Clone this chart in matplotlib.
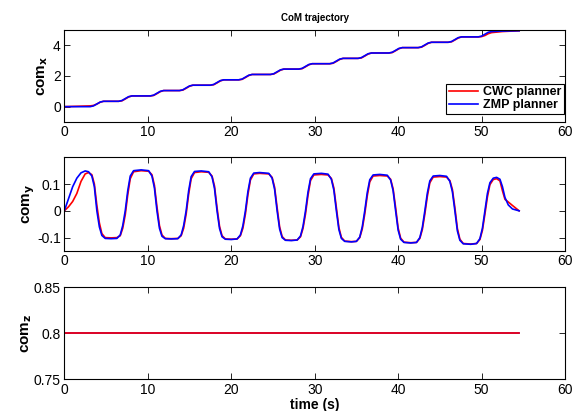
import matplotlib
matplotlib.use("Agg")
import matplotlib.pyplot as plt

plt.rcParams['font.family'] = ['Liberation Sans', 'DejaVu Sans']

# ---------------- data ----------------
series_names = ["CWC planner", "ZMP planner"]
x_ticks = [0, 10, 20, 30, 40, 50, 60]

# com_x (shared time samples)
t_x = [0, 3.1, 3.5, 3.9, 4.3, 4.7, 6.5, 6.9, 7.3, 7.7, 8.1,
       10.3, 10.7, 11.1, 11.5, 11.9, 13.8, 14.2, 14.6, 15.0, 15.4,
       17.5, 17.9, 18.3, 18.7, 19.1, 20.9, 21.3, 21.7, 22.1, 22.5,
       24.7, 25.1, 25.5, 25.9, 26.3, 28.1, 28.5, 28.9, 29.3, 29.7,
       31.8, 32.2, 32.6, 33.0, 33.4, 35.2, 35.6, 36.0, 36.4, 36.8,
       38.9, 39.3, 39.7, 40.1, 40.5, 42.4, 42.8, 43.2, 43.6, 44.0,
       46.0, 46.4, 46.8, 47.2, 47.6, 49.6, 50.0, 50.4, 50.8, 51.2,
       52.5, 54.5]
comx_zmp = [0.0, 0.0, 0.05, 0.175, 0.30, 0.35, 0.35, 0.40, 0.525, 0.65, 0.70,
            0.70, 0.75, 0.875, 1.00, 1.05, 1.05, 1.10, 1.225, 1.35, 1.40,
            1.40, 1.45, 1.575, 1.70, 1.75, 1.75, 1.80, 1.925, 2.05, 2.10,
            2.10, 2.15, 2.275, 2.40, 2.45, 2.45, 2.50, 2.625, 2.75, 2.80,
            2.80, 2.85, 2.975, 3.10, 3.15, 3.15, 3.20, 3.325, 3.45, 3.50,
            3.50, 3.55, 3.675, 3.80, 3.85, 3.85, 3.90, 4.025, 4.15, 4.20,
            4.20, 4.25, 4.375, 4.50, 4.55, 4.55, 4.60, 4.725, 4.85, 4.90,
            4.93, 4.95]
comx_cwc = [0.0, 0.05, 0.08, 0.17, 0.29, 0.35, 0.35, 0.38, 0.50, 0.63, 0.70,
            0.70, 0.73, 0.85, 0.98, 1.05, 1.05, 1.08, 1.20, 1.33, 1.40,
            1.40, 1.43, 1.55, 1.68, 1.75, 1.75, 1.78, 1.90, 2.03, 2.10,
            2.10, 2.13, 2.25, 2.38, 2.45, 2.45, 2.48, 2.60, 2.73, 2.80,
            2.80, 2.83, 2.95, 3.08, 3.15, 3.15, 3.18, 3.30, 3.43, 3.50,
            3.50, 3.53, 3.65, 3.78, 3.85, 3.85, 3.88, 4.00, 4.13, 4.20,
            4.20, 4.23, 4.35, 4.48, 4.55, 4.55, 4.57, 4.64, 4.76, 4.83,
            4.90, 4.95]

# com_y (shared time samples)
t_y = [0, 0.5, 1.0, 1.5, 2.0, 2.5, 2.9,
       3.3, 3.6, 3.9, 4.2, 4.5, 4.9, 5.6, 6.3,
       6.7, 7.0, 7.3, 7.6, 7.9, 8.3, 9.2, 10.1,
       10.5, 10.8, 11.1, 11.4, 11.7, 12.1, 12.8, 13.6,
       14.0, 14.3, 14.6, 14.9, 15.2, 15.6, 16.4, 17.3,
       17.7, 18.0, 18.3, 18.6, 18.9, 19.3, 20.0, 20.7,
       21.1, 21.4, 21.7, 22.0, 22.3, 22.7, 23.4, 24.5,
       24.9, 25.2, 25.5, 25.8, 26.1, 26.5, 27.2, 27.9,
       28.3, 28.6, 28.9, 29.2, 29.5, 29.9, 30.8, 31.6,
       32.0, 32.3, 32.6, 32.9, 33.2, 33.6, 34.4, 35.0,
       35.4, 35.7, 36.0, 36.3, 36.6, 37.0, 37.8, 38.7,
       39.1, 39.4, 39.7, 40.0, 40.3, 40.7, 41.5, 42.2,
       42.6, 42.9, 43.2, 43.5, 43.8, 44.2, 45.0, 45.8,
       46.2, 46.5, 46.8, 47.1, 47.4, 47.8, 48.7, 49.4,
       49.8, 50.1, 50.4, 50.7, 51.0, 51.4, 51.8, 52.2, 52.5, 52.8, 53.2, 53.7, 54.5]
comy_zmp = [0.0, 0.045, 0.09, 0.122, 0.142, 0.149, 0.146,
            0.13, 0.09, 0.0, -0.06, -0.092, -0.103, -0.104, -0.103,
            -0.09, -0.055, 0.0, 0.075, 0.13, 0.15, 0.153, 0.15,
            0.13, 0.085, 0.0, -0.065, -0.095, -0.104, -0.105, -0.104,
            -0.09, -0.055, 0.0, 0.075, 0.128, 0.147, 0.149, 0.146,
            0.127, 0.083, 0.0, -0.066, -0.097, -0.106, -0.107, -0.105,
            -0.09, -0.056, 0.0, 0.072, 0.122, 0.141, 0.143, 0.14,
            0.122, 0.08, 0.0, -0.068, -0.1, -0.11, -0.111, -0.109,
            -0.094, -0.058, 0.0, 0.07, 0.12, 0.138, 0.14, 0.137,
            0.118, 0.077, 0.0, -0.07, -0.103, -0.114, -0.116, -0.114,
            -0.098, -0.06, 0.0, 0.068, 0.116, 0.134, 0.136, 0.133,
            0.115, 0.075, 0.0, -0.072, -0.106, -0.118, -0.12, -0.118,
            -0.1, -0.062, 0.0, 0.066, 0.112, 0.13, 0.132, 0.129,
            0.11, 0.072, 0.0, -0.075, -0.11, -0.123, -0.125, -0.122,
            -0.104, -0.065, 0.0, 0.065, 0.105, 0.122, 0.125, 0.118, 0.09, 0.05, 0.022, 0.007, 0.0]
comy_cwc = [0.0, 0.015, 0.035, 0.065, 0.11, 0.138, 0.143,
            0.135, 0.1, 0.02, -0.045, -0.085, -0.1, -0.101, -0.1,
            -0.093, -0.065, -0.015, 0.06, 0.12, 0.146, 0.15, 0.148,
            0.135, 0.095, 0.015, -0.055, -0.09, -0.103, -0.104, -0.103,
            -0.093, -0.065, -0.012, 0.062, 0.12, 0.143, 0.146, 0.144,
            0.13, 0.092, 0.012, -0.058, -0.093, -0.105, -0.106, -0.105,
            -0.093, -0.065, -0.012, 0.06, 0.115, 0.138, 0.14, 0.138,
            0.125, 0.088, 0.012, -0.06, -0.096, -0.109, -0.11, -0.109,
            -0.097, -0.066, -0.012, 0.058, 0.113, 0.134, 0.136, 0.134,
            0.121, 0.085, 0.012, -0.062, -0.099, -0.113, -0.115, -0.114,
            -0.1, -0.068, -0.012, 0.056, 0.108, 0.13, 0.132, 0.13,
            0.118, 0.082, 0.012, -0.064, -0.102, -0.117, -0.119, -0.118,
            -0.103, -0.07, -0.012, 0.054, 0.105, 0.126, 0.128, 0.126,
            0.113, 0.08, 0.012, -0.066, -0.106, -0.122, -0.124, -0.122,
            -0.107, -0.073, -0.012, 0.052, 0.098, 0.117, 0.12, 0.112, 0.075, 0.043, 0.033, 0.02, 0.0]

# com_z
t_z = [0, 54.5]
comz_zmp = [0.8, 0.8]
comz_cwc = [0.8, 0.8]

RED = '#ff0000'
BLUE = '#0000ff'

fig = plt.figure(figsize=(5.8, 4.11), dpi=100)
left, width = 0.1109, 0.8633
ax1 = fig.add_axes([left, 0.7032, width, 0.2238])
ax2 = fig.add_axes([left, 0.3893, width, 0.2280])
ax3 = fig.add_axes([left, 0.0771, width, 0.2238])

lw = 1.2
ax1.plot(t_x, comx_cwc, color=RED, lw=lw, label=series_names[0])
ax1.plot(t_x, comx_zmp, color=BLUE, lw=lw, label=series_names[1])
ax2.plot(t_y, comy_cwc, color=RED, lw=lw)
ax2.plot(t_y, comy_zmp, color=BLUE, lw=lw)
ax3.plot(t_z, comz_zmp, color=BLUE, lw=lw)
ax3.plot(t_z, comz_cwc, color=RED, lw=lw)

ax1.set_ylim(-1, 5)
ax1.set_yticks([0, 2, 4])
ax2.set_ylim(-0.15, 0.2)
ax2.set_yticks([-0.1, 0, 0.1])
ax2.set_yticklabels(['-0.1', '0', '0.1'])
ax3.set_ylim(0.75, 0.85)
ax3.set_yticks([0.75, 0.8, 0.85])
ax3.set_yticklabels(['0.75', '0.8', '0.85'])

for ax in (ax1, ax2, ax3):
    ax.set_xlim(0, 60)
    ax.set_xticks(x_ticks)
    ax.tick_params(direction='in', top=True, right=True, length=4, width=0.6,
                   labelsize=10, pad=2.5)
    for s in ax.spines.values():
        s.set_linewidth(0.8)

ax1.set_ylabel('com$_\\mathbf{x}$', fontsize=11, fontweight='bold', labelpad=2)
ax2.set_ylabel('com$_\\mathbf{y}$', fontsize=11, fontweight='bold', labelpad=0)
ax3.set_ylabel('com$_\\mathbf{z}$', fontsize=11, fontweight='bold', labelpad=0)
ax3.set_xlabel('time (s)', fontsize=10, fontweight='bold')
ax3.xaxis.set_label_coords(0.5, -0.275)
ax3.xaxis.label.set_va('center')
ax1.set_title('CoM trajectory', fontsize=7, fontweight='bold', pad=6.5)

leg = ax1.legend(loc='lower right', bbox_to_anchor=(0.997, 0.087), borderaxespad=0,
                 fancybox=False, framealpha=1, edgecolor='black',
                 prop={'weight': 'bold', 'size': 9}, handlelength=2.3,
                 handletextpad=0.4, borderpad=0.2, labelspacing=0.1)
leg.get_frame().set_linewidth(0.8)

fig.savefig('out.png', dpi=100)
